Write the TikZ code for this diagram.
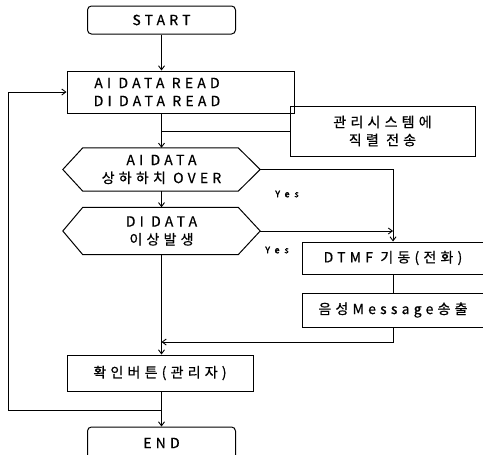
\documentclass[tikz,border=0pt]{standalone}
\usepackage{fontspec}
\setmainfont{Noto Sans CJK KR}[LetterSpace=30,FakeBold=0.6]
\newfontfamily\yesfont{Noto Sans CJK KR}[LetterSpace=55,FakeBold=2.5]
\usetikzlibrary{arrows.meta,calc}
\begin{document}
\begin{tikzpicture}[x=1pt,y=-1pt,
  every node/.style={font=\fontsize{14}{18}\selectfont, align=center, inner sep=0pt},
  frame/.style={draw, line width=1pt},
  rbox/.style={frame, rounded corners=4pt},
  conn/.style={line width=0.9pt},
  arr/.style={conn, -{Straight Barb[length=4pt,width=6pt]}},
  yeslab/.style={font=\yesfont\fontsize{9}{10}\selectfont}
]
\useasboundingbox (0,0) rectangle (483,455);

% nodes
\node[rbox, minimum width=148, minimum height=28] (start) at (161.5,20) {START};
\node[frame, minimum width=227, minimum height=42] (ai) at (180.5,92) {};
\node (aitxt) at (157,92) {AI DATA READ\\DI DATA READ};
\node[frame, minimum width=185, minimum height=50] (mgmt) at (382.5,131) {관리시스템에\\직렬 전송};

\node[minimum width=197, minimum height=43] (h1) at (161.5,169.5) {AI DATA\\상하하치 OVER};
\draw[frame] (h1.west) -- ([xshift=20]h1.north west) -- ([xshift=-22]h1.north east)
  -- (h1.east) -- ([xshift=-22]h1.south east) -- ([xshift=20]h1.south west) -- cycle;
\node[minimum width=197, minimum height=47] (h2) at (161.5,231) {DI DATA\\이상발생};
\draw[frame] (h2.west) -- ([xshift=20]h2.north west) -- ([xshift=-22]h2.north east)
  -- (h2.east) -- ([xshift=-22]h2.south east) -- ([xshift=20]h2.south west) -- cycle;

\node[frame, minimum width=182, minimum height=32] (dtmf) at (393,258) {DTMF 기동(전화)};
\node[frame, minimum width=182, minimum height=34] (msg) at (393,310) {음성Message송출};
\node[frame, minimum width=186, minimum height=36] (conf) at (160,373) {확인버튼(관리자)};
\node[rbox, minimum width=148, minimum height=32] (end) at (161.5,443) {END};

\node[yeslab] (yes1) at (287,194) {Yes};
\node[yeslab] (yes2) at (277,250) {Yes};

% helper coordinates
\coordinate (j1) at (161.5,342);
\coordinate (j2) at (161.5,410);
\coordinate (lq) at (8,92);

% connectors
\draw[arr] (start.south) -- (start.south |- ai.north);
\draw[arr] (start.south |- ai.south) -- (h1.north);
\draw[conn] (mgmt.west) -- (mgmt.west -| h1.north);
\draw[arr] (h1.south) -- (h2.north);
\draw[arr] (h1.east) -| (dtmf.north);
\draw[arr] (h2.east) -- (h2.east -| dtmf.north);
\draw[conn] (dtmf.south) -- (msg.north);
\draw[arr] (msg.south) |- (j1);
\draw[arr] (h2.south) -- (h2.south |- conf.north);
\draw[arr] (h2.south |- conf.south) -- (end.north);
\draw[arr] (j2) -| (lq) -- (ai.west);
\end{tikzpicture}
\end{document}
